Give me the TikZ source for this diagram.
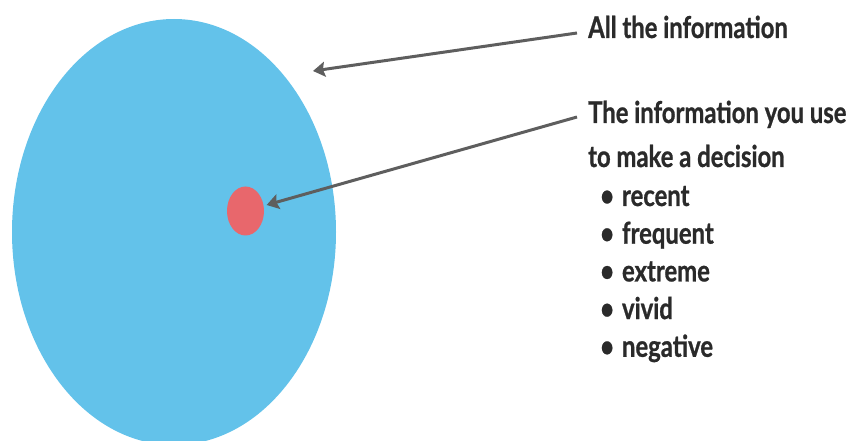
\documentclass[tikz,border=0pt]{standalone}
\usepackage{fontspec}
\setmainfont{Lato}[FakeStretch=0.795, BoldFeatures={FakeBold=0.8}]
\usetikzlibrary{arrows.meta, shapes.geometric}
\definecolor{poolblue}{HTML}{63C2EA}
\definecolor{pickred}{HTML}{E8676C}
\definecolor{arrowgray}{HTML}{5E5E5E}
\definecolor{labeltext}{HTML}{2A2A2A}

\begin{document}
\begin{tikzpicture}[x=1pt, y=-1pt, font=\fontsize{30}{36}\selectfont\bfseries,
  blob/.style={ellipse, inner sep=0pt},
  label/.style={anchor=base west, inner sep=0pt, text=labeltext},
  pointer/.style={arrowgray, line width=3pt, -{Stealth[length=12pt, width=15pt, inset=2pt]}}]
  \useasboundingbox (0,0) rectangle (847,441);
  \clip (0,0) rectangle (847,441);
  \node[blob, fill=poolblue, minimum width=324, minimum height=426] (all) at (174,232) {};
  \node[blob, fill=pickred, minimum width=37, minimum height=49] (used) at (245.5,211) {};
  \node[label] (allLabel) at (588,38) {All the information};
  \node[label] (usedLabel) at (588,123) {The information you use};
  \node[label] (usedLabel2) at (588,167) {to make a decision};
  \foreach \word [count=\i] in {recent,frequent,extreme,vivid,negative}
    \node[label] (trait\i) at (600,{206+37.7*(\i-1)}) {\textbullet\hspace{8pt}\word};
  \coordinate (allTip) at (313,71);
  \draw[pointer] ([shift={(-11,-5)}]allLabel.base west) -- (allTip);
  \draw[pointer, shorten >=3pt] ([shift={(-11,-6)}]usedLabel.base west) -- (used);
\end{tikzpicture}
\end{document}
